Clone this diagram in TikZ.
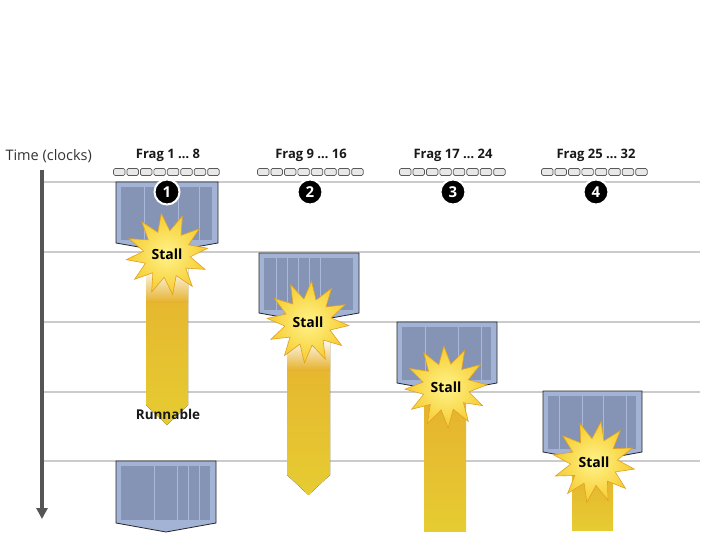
\documentclass[tikz,border=0pt]{standalone}
\usepackage{fontspec}
\setmainfont{Open Sans}
\usetikzlibrary{shapes.geometric,arrows.meta}
\definecolor{gridc}{HTML}{CBCBCB}
\definecolor{framec}{HTML}{A3B3D6}
\definecolor{panelc}{HTML}{8593B5}
\definecolor{plinec}{HTML}{AAB9DB}
\definecolor{goldc}{HTML}{E6B22E}
\definecolor{yelc}{HTML}{E6CC32}
\definecolor{starin}{HTML}{FFF38A}
\definecolor{starout}{HTML}{F6CC30}
\definecolor{starbd}{HTML}{E0A020}
\definecolor{axisc}{HTML}{555555}
\definecolor{boxc}{HTML}{E8E8E8}
\tikzset{
  gridline/.style={gridc, line width=1.4pt},
  timeax/.style={axisc, line width=3.5pt, -{Triangle[length=11pt,width=11pt]}},
  blkborder/.style={draw=black!85, line width=0.8pt, line join=miter},
  smallbox/.style={draw=black!65, fill=boxc, line width=0.7pt, rounded corners=1.5pt},
  fraglabel/.style={font=\bfseries\fontsize{13}{15}\selectfont, text=black!90},
  numc/.style={circle, fill=black, draw=white, line width=2pt, minimum size=25pt, inner sep=0pt,
    text=white, font=\bfseries\fontsize{15}{16}\selectfont},
  starb/.style={star, star points=12, star point ratio=1.75, minimum size=82pt, inner sep=0pt,
    draw=starbd, line width=0.6pt, inner color=starin, outer color=starout,
    font=\bfseries\fontsize{14}{15}\selectfont},
  barfill/.style={top color=goldc, bottom color=yelc, draw=none},
  barfade/.style={top color=white, bottom color=goldc, draw=none},
}
\newcommand\fblock[5]{%
  \fill[framec] (#1,#3) -- (#2,#3) -- (#2,#4) -- ({(#1+#2)/2},#4+9) -- (#1,#4) -- cycle;
  \fill[panelc] (#1+5,#3+5) rectangle (#2-6,#4-3);
  \foreach \lx in {#5} \draw[plinec, line width=0.8pt] (\lx,#3+5) -- (\lx,#4-3);
  \draw[blkborder] (#1,#3) -- (#2,#3) -- (#2,#4) -- ({(#1+#2)/2},#4+9) -- (#1,#4) -- cycle;
}
\newcommand\boxrow[1]{%
  \foreach \i in {0,...,7} \draw[smallbox] ({#1-53.5+\i*13.45},168.5) rectangle ++(11.5,7);
}
\begin{document}
\begin{tikzpicture}[x=1pt,y=-1pt]
\useasboundingbox (0,0) rectangle (720,540);
\fill[white] (0,0) rectangle (720,540);

% grid lines
\foreach \gy in {182,252,322,392,461} \draw[gridline] (44,\gy) -- (700,\gy);

% time axis
\coordinate (axtop) at (42,170);
\coordinate (axbot) at (42,519);
\draw[timeax] (axtop) -- (axbot);
\node[anchor=west, font=\fontsize{14.5}{16}\selectfont, text=black!80] (tlabel) at (2,156) {Time (clocks)};

% fragment labels and boxes
\node[fraglabel] (f1) at (168,155) {Frag 1 … 8};
\node[fraglabel] (f2) at (311,155) {Frag 9 … 16};
\node[fraglabel] (f3) at (453,155) {Frag 17 … 24};
\node[fraglabel] (f4) at (596,155) {Frag 25 … 32};
\boxrow{167}
\boxrow{311}
\boxrow{453}
\boxrow{595}

% yellow bars
\fill[barfill] (146,268) -- (188,268) -- (188,405) -- (167,425) -- (146,405) -- cycle;
\fill[barfade] (146,268) rectangle (188,302);
\fill[barfill] (287,338) -- (330,338) -- (330,475) -- (308.5,495) -- (287,475) -- cycle;
\fill[barfade] (287,338) rectangle (330,370);
\fill[barfill] (424,398) rectangle (466,531);
\fill[barfill] (572,468) rectangle (613,530);

% blocks
\fblock{116}{218}{182}{243}{144,178,199}
\fblock{259}{359}{253}{313}{276,287,298,309,320}
\fblock{397}{497}{322}{383}{425,458,481}
\fblock{543}{642}{391}{452}{559,582,603,626}
\fblock{116}{216}{461}{523}{154,177,188,199}

% stalls
\node[starb, rotate=8] (s1) at (167,254) {\rotatebox{-8}{Stall}};
\node[starb, rotate=-5] (s2) at (308,322) {\rotatebox{5}{Stall}};
\node[starb, rotate=3] (s3) at (446,387) {\rotatebox{-3}{Stall}};
\node[starb, rotate=-10] (s4) at (594,462) {\rotatebox{10}{Stall}};

% numbered circles
\node[numc] (n1) at (167,192) {1};
\node[numc] (n2) at (310,192) {2};
\node[numc] (n3) at (453,192) {3};
\node[numc] (n4) at (596,192) {4};

\node[font=\bfseries\fontsize{13.5}{15}\selectfont, text=black!90] (run) at (168,414) {Runnable};
\end{tikzpicture}
\end{document}
